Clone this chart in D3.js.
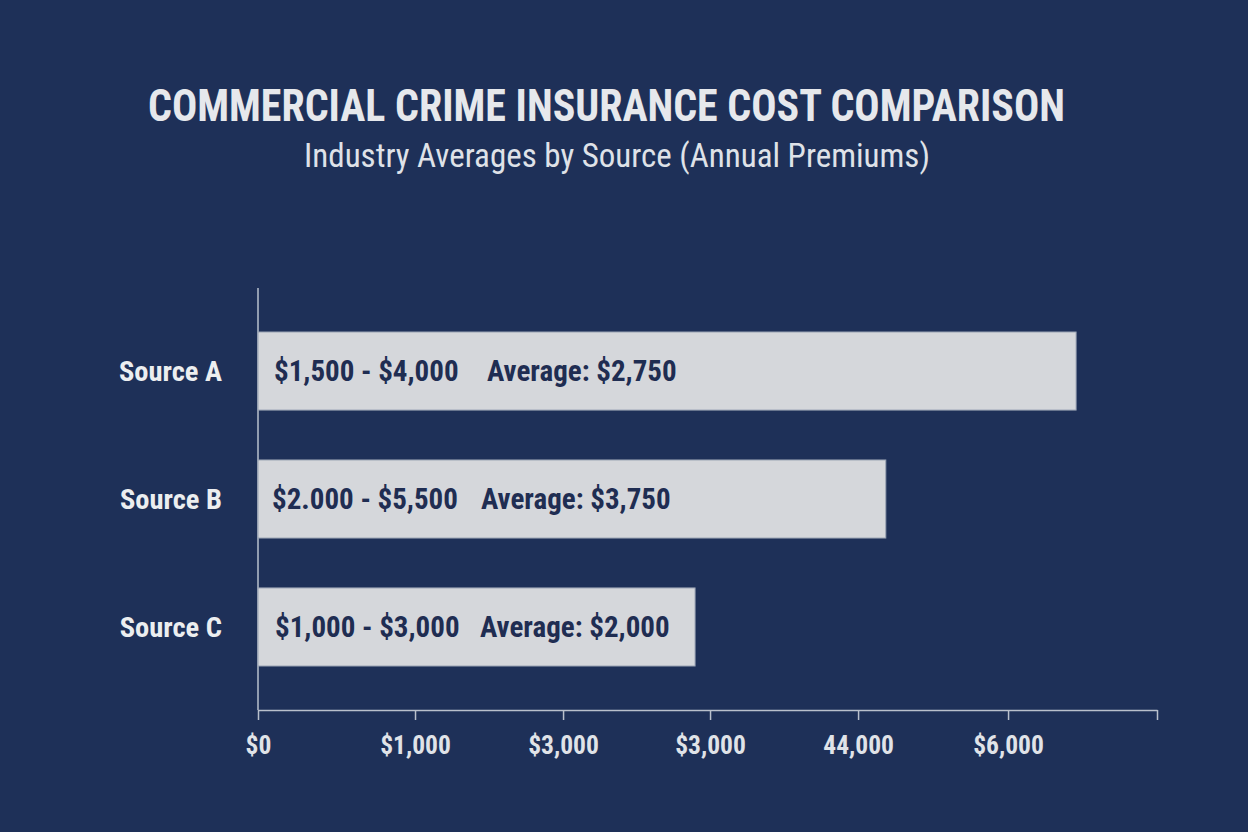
<!DOCTYPE html>
<meta charset="utf-8">
<style>
    body { margin: 0; background: #1e3058; }
    svg { display: block; }
    text { font-family: "Roboto Condensed", "Liberation Sans Narrow", "DejaVu Sans Condensed", Roboto, sans-serif; }
</style>
<svg width="1248" height="832"></svg>
<script src="https://d3js.org/d3.v7.min.js"></script>
<script>
    // chart data
    var sources = ["Source A", "Source B", "Source C"];
    var barValues = [5460, 4190, 2917];
    var rangeLabels = ["$1,500 - $4,000", "$2.000 - $5,500", "$1,000 - $3,000"];
    var avgLabels = ["Average: $2,750", "Average: $3,750", "Average: $2,000"];
    // tick marks sit slightly unevenly in the picture
    var tickValues = [0, 1048, 2036, 3017, 4005, 5006, 6000];
    var tickLabels = ["$0", "$1,000", "$3,000", "$3,000", "44,000", "$6,000", ""];

    var svg = d3.select('svg'),
        margin = { top: 288, right: 91, bottom: 122, left: 258 },
        width = +svg.attr('width') - margin.left - margin.right,
        height = +svg.attr('height') - margin.top - margin.bottom;

    svg.append('rect').attr('width', 1248).attr('height', 832).attr('fill', '#1e3058');

    // title + subtitle
    svg.append('text')
        .attr('x', 148).attr('y', 121)
        .attr('textLength', 917)
        .attr('lengthAdjust', 'spacingAndGlyphs')
        .attr('fill', '#e6e8ec')
        .style('font-size', '45px').style('font-weight', 'bold')
        .text('COMMERCIAL CRIME INSURANCE COST COMPARISON');

    svg.append('text')
        .attr('x', 617).attr('y', 167)
        .attr('text-anchor', 'middle')
        .attr('fill', '#dfe2e8')
        .style('font-size', '33px')
        .text('Industry Averages by Source (Annual Premiums)');

    var x = d3.scaleLinear().domain([0, 6000]).range([0, width]);
    var y = d3.scaleBand().domain(sources).range([44, 378]).paddingInner(0.39).paddingOuter(0);

    var g = svg.append('g')
        .attr('transform', 'translate(' + margin.left + ',' + margin.top + ')');

    // x axis
    var xAxis = g.append('g')
        .attr('transform', 'translate(0,' + height + ')')
        .call(d3.axisBottom(x).tickValues(tickValues).tickSize(10).tickSizeOuter(0)
            .tickFormat((d, i) => tickLabels[i]));
    xAxis.select('.domain').attr('stroke', '#b9c0cc').attr('stroke-width', 1.5);
    xAxis.selectAll('.tick line').attr('stroke', '#b9c0cc').attr('stroke-width', 1.5);
    xAxis.selectAll('.tick text')
        .attr('fill', '#e0e3e8')
        .attr('y', 26)
        .attr('dy', '0.71em')
        .style('font-size', '25.5px').style('font-weight', 'bold')
        .style('font-family', '"Roboto Condensed", "Liberation Sans Narrow", "DejaVu Sans Condensed", Roboto, sans-serif');

    // y axis line
    g.append('line')
        .attr('x1', 0).attr('x2', 0)
        .attr('y1', 0).attr('y2', height)
        .attr('stroke', '#b9c0cc').attr('stroke-width', 1.5);

    // bars
    g.selectAll('.bar')
        .data(sources)
        .enter().append('rect')
        .attr('class', 'bar')
        .attr('x', 0)
        .attr('y', d => y(d))
        .attr('width', (d, i) => x(barValues[i]))
        .attr('height', y.bandwidth())
        .attr('fill', '#d5d7db')
        .attr('stroke', '#9aa3b3')
        .attr('stroke-width', 1);

    // category labels
    g.selectAll('.cat')
        .data(sources)
        .enter().append('text')
        .attr('x', -36)
        .attr('y', d => y(d) + y.bandwidth() / 2)
        .attr('dy', '0.35em')
        .attr('text-anchor', 'end')
        .attr('fill', '#eceef0')
        .style('font-size', '28.5px').style('font-weight', 'bold')
        .text(d => d);

    // in-bar labels
    g.selectAll('.range')
        .data(sources)
        .enter().append('text')
        .attr('x', (d, i) => [16, 14, 17][i])
        .attr('y', d => y(d) + y.bandwidth() / 2)
        .attr('dy', '0.35em')
        .attr('fill', '#1f2d52')
        .style('font-size', '29px').style('font-weight', 'bold')
        .text((d, i) => rangeLabels[i]);

    g.selectAll('.avg')
        .data(sources)
        .enter().append('text')
        .attr('x', (d, i) => [229, 223, 222][i])
        .attr('y', d => y(d) + y.bandwidth() / 2)
        .attr('dy', '0.35em')
        .attr('fill', '#1f2d52')
        .style('font-size', '29px').style('font-weight', 'bold')
        .text((d, i) => avgLabels[i]);
</script>
